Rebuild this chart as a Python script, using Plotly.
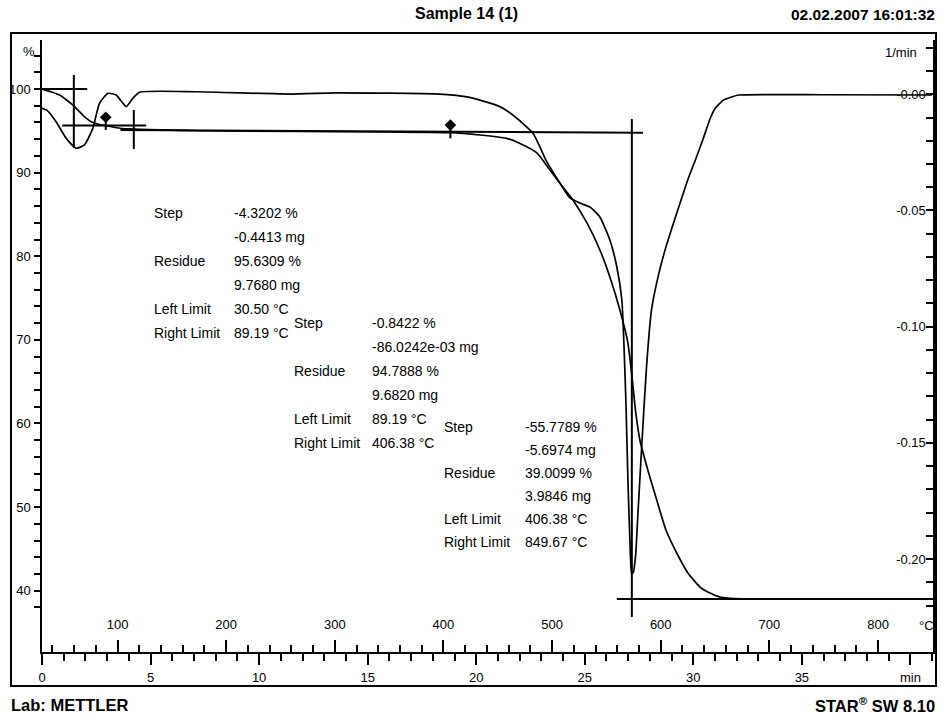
import numpy as np
import plotly.graph_objects as go

# ---- measured curves (sample temperature in degC) ----
temp_tga = [30.5, 40.0, 46.6, 52.5, 58.8, 68.0, 75.8, 81.0, 86.2, 89.2, 98.8, 111.1,
            140.0, 175.6, 267.7, 350.0, 405.9, 433.5, 458.1, 470.0, 486.0, 498.0,
            509.9, 519.2, 532.1, 544.0, 553.2, 562.4, 569.8, 573.2, 577.0, 580.8,
            588.1, 596.3, 604.8, 614.7, 625.0, 636.2, 645.3, 654.6, 668.4, 700.0, 849.7]
mass_pct = [100.00, 99.62, 99.28, 98.75, 98.09, 96.89, 96.09, 95.85, 95.69, 95.63, 95.37, 95.22,
            95.10, 95.01, 94.92, 94.86, 94.79, 94.50, 94.10, 93.50, 92.35, 90.31,
            88.28, 86.73, 83.98, 80.75, 77.52, 73.57, 69.62, 66.00, 61.30, 58.02,
            54.44, 50.85, 47.26, 44.51, 42.12, 40.44, 39.72, 39.24, 39.05, 39.02, 39.01]

temp_dtg = [30.5, 34.9, 43.5, 52.7, 61.9, 69.6, 77.3, 83.4, 91.1, 98.8, 103.5, 108.0,
            114.1, 120.3, 172.5, 260.0, 300.0, 396.7, 420.0, 433.5, 451.9, 463.9,
            482.3, 495.2, 507.2, 516.4, 525.6, 534.8, 544.0, 553.2, 559.6, 564.2,
            567.9, 569.8, 571.6, 573.2, 574.6, 576.9, 578.7, 582.3, 586.9, 591.5,
            597.9, 605.3, 616.3, 625.5, 631.9, 639.3, 645.7, 650.3, 657.7, 665.0,
            671.5, 750.0, 849.7]
dtg_per_min = [-0.0060, -0.0068, -0.0118, -0.0189, -0.0232, -0.0218, -0.0146, -0.0039, 0.0004, -0.0003, -0.0030, -0.0053,
               -0.0017, 0.0009, 0.0011, 0.0001, 0.0006, 0.0001, -0.0010, -0.0025, -0.0053, -0.0089,
               -0.0167, -0.0291, -0.0382, -0.0446, -0.0468, -0.0485, -0.0528, -0.0627, -0.0743, -0.0885,
               -0.1316, -0.1660, -0.1918, -0.2060, -0.2059, -0.1983, -0.1832, -0.1531, -0.1174, -0.0928,
               -0.0778, -0.0649, -0.0489, -0.0360, -0.0283, -0.0188, -0.0102, -0.0059, -0.0025, -0.0012,
               -0.0003, -0.0002, -0.0003]

# ---- step evaluation construction lines (degC, %) ----
eval_lines = [
    ([30.5, 72.1], [100.0, 100.0]),
    ([59.8, 59.8], [101.67, 92.94]),
    ([49.1, 126.4], [95.63, 95.63]),
    ([115.0, 115.0], [97.49, 92.82]),
    ([102.7, 583.7], [95.10, 94.77]),
    ([573.4, 573.4], [96.41, 36.86]),
    ([559.6, 850.6], [39.01, 39.01]),
]
limit_temps = [89.19, 406.38]
limit_marks = [96.62, 95.69]
limit_ticks_low = [95.10, 94.10]

# ---- step results ----
result_labels = ["Step", "", "Residue", "", "Left Limit", "Right Limit"]
step_results = [
    ["-4.3202 %", "-0.4413 mg", "95.6309 %", "9.7680 mg", "30.50 °C", "89.19 °C"],
    ["-0.8422 %", "-86.0242e-03 mg", "94.7888 %", "9.6820 mg", "89.19 °C", "406.38 °C"],
    ["-55.7789 %", "-5.6974 mg", "39.0099 %", "3.9846 mg", "406.38 °C", "849.67 °C"],
]

time_range = [0, 41.04]
time_ticks = [0, 5, 10, 15, 20, 25, 30, 35, 40]
time_ticktext = ["0", "5", "10", "15", "20", "25", "30", "35", "min"]
temp_range = [30.5, 850.6]
pct_range = [32.67, 105.86]
dtg_range = [-0.2400, 0.02337]
dtg_ticks = [0.0, -0.05, -0.10, -0.15, -0.20]
dtg_ticktext = ["-0.00", "-0.05", "-0.10", "-0.15", "-0.20"]

FONT = "Liberation Sans, Arial, sans-serif"
W, H = 942, 717
ML, MR, MT, MB = 42, 9, 40, 65
PW, PH = W - ML - MR, H - MT - MB


def px(x):
    return (x - ML) / PW


def py(y):
    return (H - MB - y) / PH


fig = go.Figure()

# time axis carrier
fig.add_trace(go.Scatter(x=time_range, y=[None, None], xaxis="x", yaxis="y",
                         showlegend=False, hoverinfo="skip"))

curve_line = dict(color="black", width=1.7, shape="spline", smoothing=0.5)
fig.add_trace(go.Scatter(x=temp_tga, y=mass_pct, xaxis="x2", yaxis="y", mode="lines",
                         line=curve_line, showlegend=False, hoverinfo="skip"))
fig.add_trace(go.Scatter(x=temp_dtg, y=dtg_per_min, xaxis="x2", yaxis="y2", mode="lines",
                         line=curve_line, showlegend=False, hoverinfo="skip"))

lx, ly = [], []
for xs, ys in eval_lines:
    lx += xs + [None]
    ly += ys + [None]
for t, top, low in zip(limit_temps, limit_marks, limit_ticks_low):
    lx += [t, t, None]
    ly += [top, low, None]
fig.add_trace(go.Scatter(x=lx, y=ly, xaxis="x2", yaxis="y", mode="lines",
                         line=dict(color="black", width=2), showlegend=False, hoverinfo="skip"))
fig.add_trace(go.Scatter(x=limit_temps, y=limit_marks, xaxis="x2", yaxis="y", mode="markers",
                         marker=dict(symbol="diamond", size=9, color="black"),
                         showlegend=False, hoverinfo="skip"))

tick_font = dict(family=FONT, size=13, color="black")
tk = dict(tickwidth=1.5, tickcolor="black")
fig.update_layout(
    width=W, height=H,
    margin=dict(l=ML, r=MR, t=MT, b=MB),
    paper_bgcolor="white", plot_bgcolor="white",
    font=dict(family=FONT, color="black", size=13),
    showlegend=False,
    xaxis=dict(range=time_range, showgrid=False, zeroline=False, showline=True,
               linecolor="black", linewidth=1.5, ticks="outside", ticklen=11, **tk,
               tickmode="array", tickvals=time_ticks, ticktext=time_ticktext, tickfont=tick_font,
               ticklabelstandoff=2,
               minor=dict(ticks="outside", ticklen=7, dtick=1, tick0=0, **tk)),
    xaxis2=dict(range=temp_range, overlaying="x", anchor="y", side="bottom",
                showgrid=False, zeroline=False, showline=False, ticks="inside", ticklen=12, **tk,
                tick0=0, dtick=100, tickfont=tick_font,
                ticklabelposition="inside", ticklabelstandoff=8,
                minor=dict(ticks="inside", ticklen=7, dtick=20, tick0=0, **tk)),
    yaxis=dict(range=pct_range, showgrid=False, zeroline=False, showline=True,
               linecolor="black", linewidth=1.5, ticks="outside", ticklen=6, **tk,
               tick0=0, dtick=10, tickfont=tick_font, ticklabelstandoff=1,
               minor=dict(ticks="outside", ticklen=6, dtick=2, tick0=0, **tk)),
    yaxis2=dict(range=dtg_range, overlaying="y", side="right", anchor="x",
                showgrid=False, zeroline=False, showline=True, linecolor="black", linewidth=1.5,
                ticks="inside", ticklen=7, **tk,
                tickmode="array", tickvals=dtg_ticks, ticktext=dtg_ticktext,
                ticklabelposition="inside", tickfont=tick_font,
                minor=dict(ticks="inside", ticklen=7, **tk,
                           tickmode="array", tickvals=list(np.round(np.arange(-0.24, 0.025, 0.01), 2)))),
)

ann = []


def text(x, y, s, anchor="left", size=14, bold=False):
    if bold:
        s = "<b>" + s + "</b>"
    ann.append(dict(x=px(x), y=py(y), xref="paper", yref="paper", text=s, showarrow=False,
                    xanchor=anchor, yanchor="middle", font=dict(family=FONT, size=size, color="black")))


# result blocks: label column x, value column x, first row y, row pitch
blocks = [(151.7, 231.7, 213, 24), (291.7, 370, 323, 24), (441.7, 523.3, 427, 23)]
for (lx0, vx0, y0, dy), vals in zip(blocks, step_results):
    for i, (lab, val) in enumerate(zip(result_labels, vals)):
        if lab:
            text(lx0, y0 + i * dy, lab)
        text(vx0, y0 + i * dy, val)

text(466, 14, "Sample 14 (1)", anchor="center", size=16, bold=True)
text(937, 15, "02.02.2007 16:01:32", anchor="right", size=15.5, bold=True)
text(9, 705, "Lab: METTLER", size=16.5, bold=True)
text(937, 705, "STAR<sup>®</sup> SW 8.10", anchor="right", size=16.5, bold=True)
text(29, 51, "%", anchor="center", size=13)
text(901, 52, "1/min", anchor="center", size=13)
text(926, 625, "°C", anchor="center", size=13)

fig.update_layout(annotations=ann)

# outer frame
fig.add_shape(type="rect", xref="paper", yref="paper", x0=px(11), x1=px(936), y0=py(686), y1=py(33),
              line=dict(color="black", width=2))

fig.write_html("out.html")
